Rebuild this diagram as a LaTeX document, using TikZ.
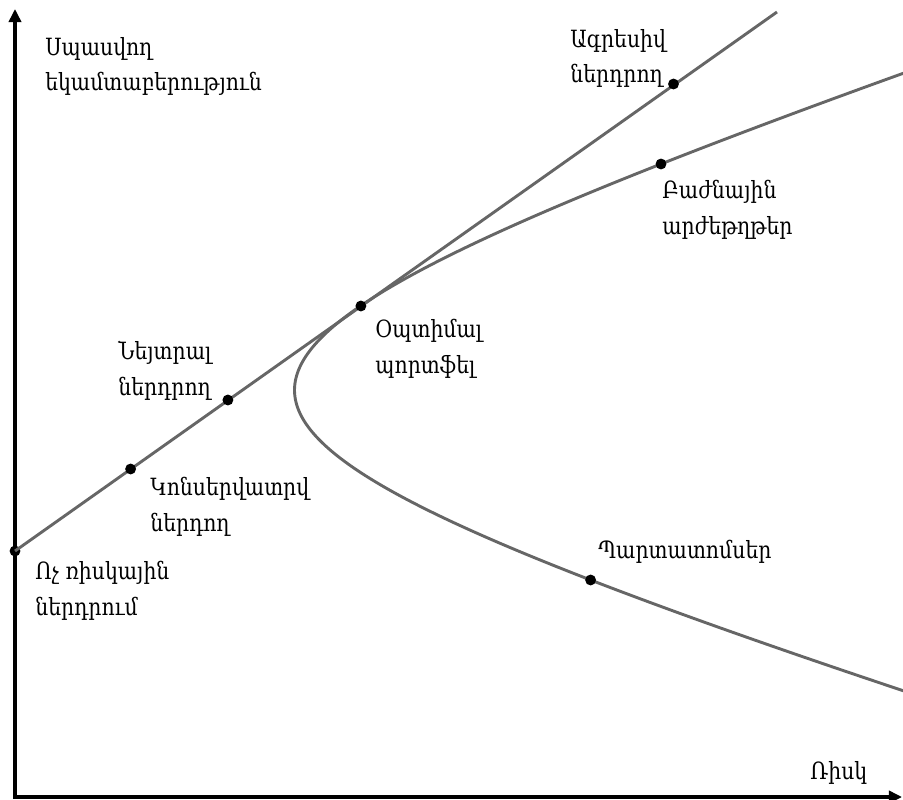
\documentclass[tikz,border=0pt]{standalone}
\usepackage{fontspec}
\setmainfont{DejaVu Serif}[FakeStretch=0.86]
\usetikzlibrary{arrows.meta}
\definecolor{linegray}{RGB}{102,102,102}
\begin{document}
\begin{tikzpicture}[x=0.02cm,y=-0.02cm,
  axis/.style={line width=1.8pt, line cap=rect, -{Triangle[length=7.5pt,width=7pt]}},
  curve/.style={line width=1.65pt, draw=linegray},
  dot/.style={circle, fill=black, inner sep=0pt, minimum size=6.2pt},
  lbl/.style={anchor=north west, align=left, inner sep=0pt,
    font=\fontsize{13.5pt}{20.2pt}\selectfont}
]
\useasboundingbox (0,0) rectangle (903,800);

% axes
\coordinate (origin) at (15,797);
\coordinate (ytip) at (15,9);
\coordinate (xtip) at (902,797);
\draw[axis] (origin) -- (ytip);
\draw[axis] (origin) -- (xtip);

% efficient frontier (tilted hyperbola), clipped to the frame
\begin{scope}
  \clip (0,0) rectangle (903,790);
  \draw[curve] plot[domain=-340:305, samples=240, variable=\u]
    ({295+0.14*\u+100*sqrt(27.04+10.5625*(\u/100)^2)-520}, {397+\u});
\end{scope}

% capital market line
\node[dot] (rf) at (15,551) {};
\coordinate (cmltop) at (777,12);
\draw[curve] (rf.center) -- (cmltop);

% points
\node[dot] (cons) at (130.6,469) {};
\node[dot] (neut) at (227.9,400) {};
\node[dot] (opt) at (360.9,306) {};
\node[dot] (aggr) at (673.5,84) {};
\node[dot] (stocks) at (661,164) {};
\node[dot] (bonds) at (590.6,580) {};

% labels
\node[lbl] (ylab) at (45,37) {Սպասվող\\եկամտաբերություն};
\node[lbl] (aggrlab) at (570,29) {Ագրեսիվ\\ներդրող};
\node[lbl] (stockslab) at (662,180) {Բաժնային\\արժեթղթեր};
\node[lbl] (optlab) at (375,319) {Օպտիմալ\\պորտֆել};
\node[lbl] (neutlab) at (118,341) {Նեյտրալ\\ներդրող};
\node[lbl] (conslab) at (150,477) {Կոնսերվատրվ\\ներդող};
\node[lbl] (rflab) at (35,561) {Ոչ ռիսկային\\ներդրում};
\node[lbl] (bondslab) at (598,540) {Պարտատոմսեր};
\node[lbl] (xlab) at (810,761) {Ռիսկ};
\end{tikzpicture}
\end{document}
